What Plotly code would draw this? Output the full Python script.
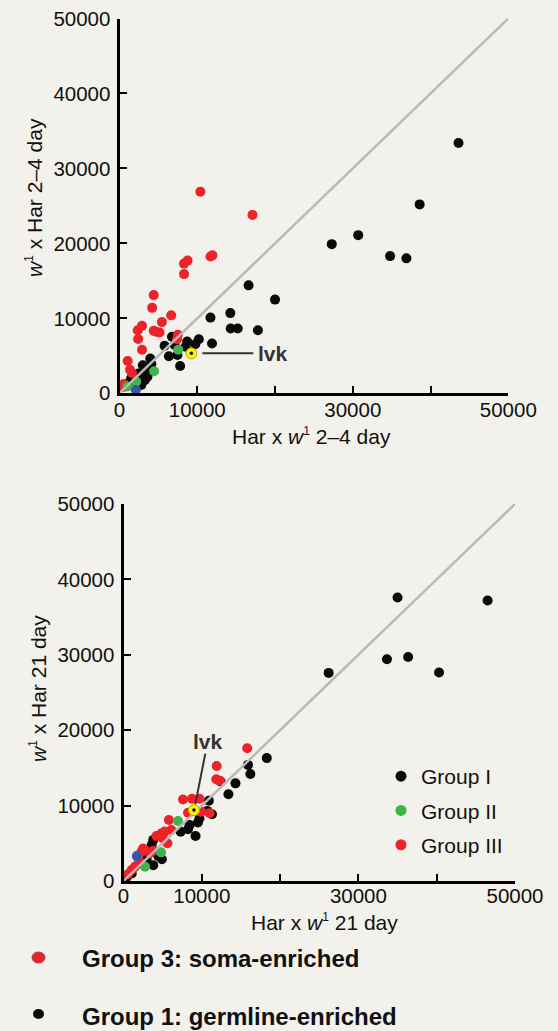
import plotly.graph_objects as go

W, H = 558, 1031

# ---------------- data: top panel (2-4 day) ----------------
top_black_x = [43600, 38600, 30700, 27300, 34800, 36900, 16600, 20000, 17800, 14300, 15200,
               14250, 11700, 11900, 10200, 9750, 8700, 8500, 6750, 5800, 7100, 6350, 7450,
               7800, 3950, 4100, 3000, 3100, 3250, 3000, 2450, 1950, 1500, 1100, 650, 3650,
               2800, 3600]
top_black_y = [33400, 25200, 21100, 19900, 18300, 18000, 14400, 12500, 8400, 8650, 8650,
               10700, 10100, 6650, 7200, 6550, 6900, 6200, 7550, 6350, 6450, 4950, 5100,
               3650, 4650, 3900, 3750, 3000, 1750, 2450, 2650, 2300, 2000, 1350, 900, 3100,
               1100, 2200]
top_red_x = [10400, 17100, 11700, 11950, 8300, 8750, 8300, 4400, 4200, 6650, 5450, 2900,
             2350, 2400, 4400, 4700, 5150, 7500, 7400, 2900, 1050, 1350, 1600, 550, 300]
top_red_y = [26900, 23800, 18250, 18400, 17300, 17700, 15900, 13100, 11400, 10400, 9500, 9000,
             8400, 7250, 8350, 8200, 8100, 7800, 7200, 5800, 4300, 3150, 2700, 1250, 800]
top_green_x = [7550, 4450, 2150, 1000]
top_green_y = [5800, 2950, 1550, 900]
top_blue_x = [2100]
top_blue_y = [450]
top_lvk_x = [9240]
top_lvk_y = [5330]

# ---------------- data: bottom panel (21 day) ----------------
bot_black_x = [35000, 46500, 26200, 33650, 36350, 40300, 18300, 15900, 16200, 14300, 13400,
               12400, 10900, 10700, 11300, 9700, 9500, 8450, 9200, 7300, 8240, 3800, 3600,
               4450, 4900, 2960, 3200, 1050, 400, 3800, 2000]
bot_black_y = [37600, 37200, 27600, 29400, 29700, 27650, 16300, 15400, 14200, 12950, 11500,
               13200, 10650, 9300, 8850, 8300, 7750, 7430, 5970, 6540, 6860, 5450, 4770,
               3300, 2880, 2800, 3670, 1000, 500, 2100, 2400]
bot_red_x = [15800, 11900, 11850, 12300, 7600, 8750, 9700, 8240, 9900, 11000, 5800, 6100,
             5260, 4830, 4200, 5000, 5600, 2500, 2300, 2750, 3400, 3800, 2100, 1050, 600, 1470]
bot_red_y = [17600, 15250, 13500, 13300, 10800, 10900, 10900, 9060, 9200, 9000, 8100, 6760,
             6550, 6300, 5970, 5660, 5000, 4300, 3900, 4100, 3670, 4000, 2560, 1460, 930, 1900]
bot_green_x = [6960, 4800, 2750]
bot_green_y = [7950, 3800, 1900]
bot_blue_x = [1700]
bot_blue_y = [3300]
bot_lvk_x = [9000]
bot_lvk_y = [9400]

diag = [0, 50000]
tick_vals = [0, 10000, 20000, 30000, 40000, 50000]
x_tick_text = ["0", "10000", " ", "30000", " ", "50000"]
y_tick_text = ["0", "10000", "20000", "30000", "40000", "50000"]
legend_names = ["Group I", "Group II", "Group III"]
caption_texts = ["Group 3: soma-enriched", "Group 1: germline-enriched"]

BLACK = "#0a0a0a"
RED = "#ee2229"
GREEN = "#3fb44b"
BLUE = "#3a55a6"
YELLOW = "#fff200"
BG = "#f3f1eb"
FONT = "Liberation Sans, Arial, Helvetica, sans-serif"
SUP = "<sup><span style='font-size:12px'>1</span></sup>"


def pxx(px):
    return px / W


def pxy(py):
    return 1 - py / H


fig = go.Figure()
MS = 10


def add_panel(xa, ya, bx, by, rx, ry, gx, gy, blx, bly, lx, ly):
    fig.add_trace(go.Scatter(x=bx, y=by, mode="markers", xaxis=xa, yaxis=ya, showlegend=False,
                             marker=dict(size=MS, color=BLACK, line=dict(width=0))))
    fig.add_trace(go.Scatter(x=rx, y=ry, mode="markers", xaxis=xa, yaxis=ya, showlegend=False,
                             marker=dict(size=MS, color=RED, line=dict(width=0))))
    fig.add_trace(go.Scatter(x=gx, y=gy, mode="markers", xaxis=xa, yaxis=ya, showlegend=False,
                             marker=dict(size=MS, color=GREEN, line=dict(width=0))))
    fig.add_trace(go.Scatter(x=blx, y=bly, mode="markers", xaxis=xa, yaxis=ya, showlegend=False,
                             marker=dict(size=MS, color=BLUE, line=dict(width=0))))
    fig.add_trace(go.Scatter(x=diag, y=diag, mode="lines", xaxis=xa, yaxis=ya, showlegend=False,
                             line=dict(color="#b9b9b9", width=2.5)))
    fig.add_trace(go.Scatter(x=lx, y=ly, mode="markers", xaxis=xa, yaxis=ya, showlegend=False,
                             marker=dict(size=11, color=YELLOW, line=dict(width=1, color="#b8a800"))))
    fig.add_trace(go.Scatter(x=lx, y=ly, mode="markers", xaxis=xa, yaxis=ya, showlegend=False,
                             marker=dict(size=3.5, color=BLACK, line=dict(width=0))))


add_panel("x", "y", top_black_x, top_black_y, top_red_x, top_red_y, top_green_x, top_green_y,
          top_blue_x, top_blue_y, top_lvk_x, top_lvk_y)
add_panel("x2", "y2", bot_black_x, bot_black_y, bot_red_x, bot_red_y, bot_green_x, bot_green_y,
          bot_blue_x, bot_blue_y, bot_lvk_x, bot_lvk_y)

# legend-only entries
for name, col in zip(legend_names, [BLACK, GREEN, RED]):
    fig.add_trace(go.Scatter(x=[None], y=[None], mode="markers", xaxis="x2", yaxis="y2",
                             name=name, legendgroup=name,
                             marker=dict(size=11, color=col)))

axis_common = dict(range=[0, 50000], tickvals=tick_vals, showline=True, linewidth=3,
                   linecolor="black", ticks="inside", ticklen=7, tickwidth=2.2,
                   tickcolor="black", showgrid=False, zeroline=False, automargin=False,
                   tickfont=dict(family=FONT, size=20.5, color="#111"))

fig.update_layout(
    width=W, height=H,
    margin=dict(l=0, r=0, t=0, b=0),
    paper_bgcolor=BG, plot_bgcolor=BG,
    font=dict(family=FONT, color="#111"),
    xaxis=dict(domain=[pxx(119.5), pxx(508.3)], anchor="y", ticktext=x_tick_text,
               ticklabelstandoff=-4, **axis_common),
    yaxis=dict(domain=[pxy(393.3), pxy(18.5)], anchor="x", ticktext=y_tick_text,
               ticklabelstandoff=2, **axis_common),
    xaxis2=dict(domain=[pxx(123.5), pxx(515)], anchor="y2", ticktext=x_tick_text,
                ticklabelstandoff=-6, **axis_common),
    yaxis2=dict(domain=[pxy(881), pxy(504)], anchor="x2", ticktext=y_tick_text,
                ticklabelstandoff=2, **axis_common),
    showlegend=True,
    legend=dict(x=pxx(381), y=pxy(756), xanchor="left", yanchor="top",
                bgcolor="rgba(0,0,0,0)", font=dict(family=FONT, size=21, color="#111"),
                tracegroupgap=4, itemsizing="trace"),
)

ann = []
# axis titles
ann.append(dict(text="Har x <i>w</i>" + SUP + " 2–4 day", x=pxx(312), y=pxy(436),
                xref="paper", yref="paper", showarrow=False, xanchor="center", yanchor="middle",
                font=dict(family=FONT, size=21, color="#111")))
ann.append(dict(text="<i>w</i>" + SUP + " x Har 2–4 day", x=pxx(34), y=pxy(198),
                xref="paper", yref="paper", showarrow=False, xanchor="center", yanchor="middle",
                textangle=-90, font=dict(family=FONT, size=21, color="#111")))
ann.append(dict(text="Har x <i>w</i>" + SUP + " 21 day", x=pxx(324), y=pxy(922),
                xref="paper", yref="paper", showarrow=False, xanchor="center", yanchor="middle",
                font=dict(family=FONT, size=21, color="#111")))
ann.append(dict(text="<i>w</i>" + SUP + " x Har 21 day", x=pxx(38), y=pxy(689),
                xref="paper", yref="paper", showarrow=False, xanchor="center", yanchor="middle",
                textangle=-90, font=dict(family=FONT, size=21, color="#111")))
# lvk labels
ann.append(dict(text="<b>lvk</b>", x=17600, y=5330, xref="x", yref="y", showarrow=False,
                xanchor="left", yanchor="middle", font=dict(family=FONT, size=21, color="#333")))
ann.append(dict(text="<b>lvk</b>", x=10800, y=18500, xref="x2", yref="y2", showarrow=False,
                xanchor="center", yanchor="middle", font=dict(family=FONT, size=21, color="#333")))
# captions
ann.append(dict(text="<b>" + caption_texts[0] + "</b>", x=pxx(80), y=pxy(958), xref="paper",
                yref="paper", showarrow=False, xanchor="left", yanchor="middle",
                font=dict(family=FONT, size=24, color="#111")))
ann.append(dict(text="<b>" + caption_texts[1] + "</b>", x=pxx(80), y=pxy(1016), xref="paper",
                yref="paper", showarrow=False, xanchor="left", yanchor="middle",
                font=dict(family=FONT, size=24, color="#111")))
fig.update_layout(annotations=ann)

shapes = [
    dict(type="line", xref="x", yref="y", x0=10650, x1=17200, y0=5330, y1=5330,
         line=dict(color="#333", width=2)),
    dict(type="line", xref="x2", yref="y2", x0=10450, y0=16900, x1=9170, y1=10200,
         line=dict(color="#333", width=2)),
    dict(type="circle", xref="paper", yref="paper", x0=pxx(32), x1=pxx(45),
         y0=pxy(963), y1=pxy(952), fillcolor="#e5262b", line=dict(color="#c0305a", width=1)),
    dict(type="circle", xref="paper", yref="paper", x0=pxx(33), x1=pxx(44),
         y0=pxy(1019), y1=pxy(1009), fillcolor=BLACK, line=dict(width=0)),
]
fig.update_layout(shapes=shapes)

fig.write_html("out.html", config={"displayModeBar": False},
               post_script="document.body.style.margin='0';")
